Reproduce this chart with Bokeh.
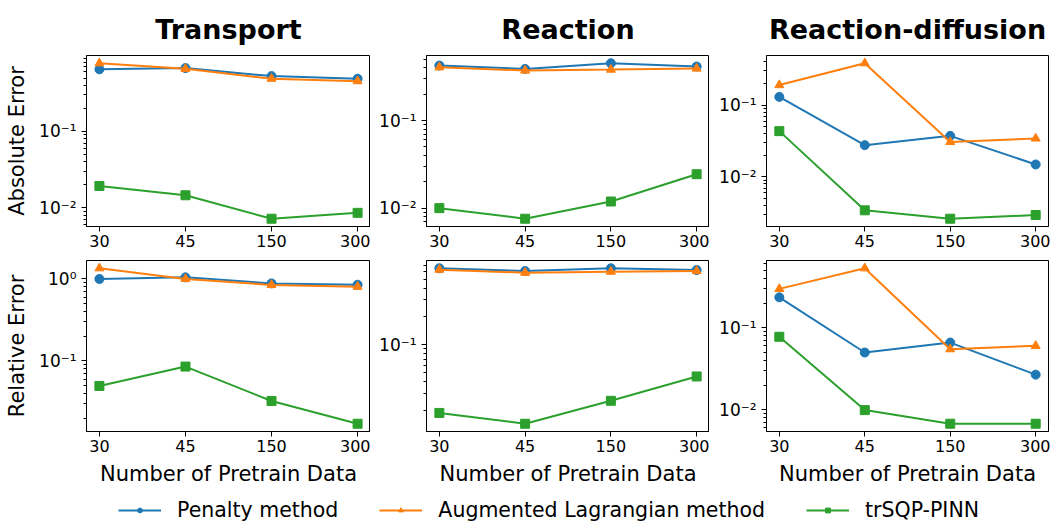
import numpy as np
from bokeh.plotting import figure
from bokeh.models import (Range1d, FixedTicker, Legend, LegendItem,
                          CustomJSTickFormatter)
from bokeh.layouts import column, row
from bokeh.embed import file_html
from bokeh.resources import INLINE

# ---------------- data ----------------
pretrain = ["30", "45", "150", "300"]
problems = ["Transport", "Reaction", "Reaction-diffusion"]
methods = ["Penalty method", "Augmented Lagrangian method", "trSQP-PINN"]

abs_transport_penalty = [0.65, 0.675, 0.53, 0.49]
abs_transport_auglag = [0.78, 0.66, 0.49, 0.455]
abs_transport_trsqp = [0.0193, 0.0146, 0.0072, 0.0086]

abs_reaction_penalty = [0.424, 0.388, 0.45, 0.413]
abs_reaction_auglag = [0.405, 0.372, 0.381, 0.392]
abs_reaction_trsqp = [0.0100, 0.00757, 0.0119, 0.0244]

abs_rd_penalty = [0.13, 0.0277, 0.0373, 0.0149]
abs_rd_auglag = [0.19, 0.382, 0.0307, 0.0343]
abs_rd_trsqp = [0.0434, 0.00343, 0.00262, 0.00295]

rel_transport_penalty = [1.0, 1.047, 0.883, 0.85]
rel_transport_auglag = [1.35, 1.0, 0.845, 0.805]
rel_transport_trsqp = [0.0494, 0.0852, 0.0324, 0.0171]

rel_reaction_penalty = [0.652, 0.61, 0.652, 0.625]
rel_reaction_auglag = [0.63, 0.585, 0.60, 0.61]
rel_reaction_trsqp = [0.0187, 0.01435, 0.0252, 0.0458]

rel_rd_penalty = [0.235, 0.0499, 0.066, 0.0268]
rel_rd_auglag = [0.298, 0.532, 0.0548, 0.0602]
rel_rd_trsqp = [0.0776, 0.0099, 0.00675, 0.00675]

abs_data = [
    [abs_transport_penalty, abs_transport_auglag, abs_transport_trsqp],
    [abs_reaction_penalty, abs_reaction_auglag, abs_reaction_trsqp],
    [abs_rd_penalty, abs_rd_auglag, abs_rd_trsqp],
]
rel_data = [
    [rel_transport_penalty, rel_transport_auglag, rel_transport_trsqp],
    [rel_reaction_penalty, rel_reaction_auglag, rel_reaction_trsqp],
    [rel_rd_penalty, rel_rd_auglag, rel_rd_trsqp],
]

# ---------------- style ----------------
COLORS = ["#1f77b4", "#ff7f0e", "#2ca02c"]
MARKERS = ["circle", "triangle", "square"]
FONT = "DejaVu Sans"
FRAME_W = [284, 283, 282]
LEFT = [86, 56, 57]
RIGHT = [0, 0, 2]
FRAME_H = 171

SUP = """
const sup = {'-':'\u207b','0':'\u2070','1':'\u00b9','2':'\u00b2','3':'\u00b3',
             '4':'\u2074','5':'\u2075','6':'\u2076','7':'\u2077','8':'\u2078','9':'\u2079'};
const e = Math.round(Math.log10(tick));
return '10' + String(e).split('').map(c => sup[c]).join('');
"""


def log_range(series):
    lo = np.log10(min(min(s) for s in series))
    hi = np.log10(max(max(s) for s in series))
    pad = 0.05 * (hi - lo)
    return Range1d(10 ** (lo - pad), 10 ** (hi + pad))


def make_panel(series, col, title=None, ylabel=None, xlabel=None, top=0, bottom=34):
    n = len(pretrain)
    xs = list(range(n))
    xpad = 0.05 * (n - 1)
    p = figure(frame_width=FRAME_W[col], frame_height=FRAME_H,
               y_axis_type="log",
               x_range=Range1d(-xpad, n - 1 + xpad),
               y_range=log_range(series),
               output_backend="svg", toolbar_location=None,
               min_border_left=LEFT[col], min_border_right=RIGHT[col],
               min_border_top=top, min_border_bottom=bottom,
               background_fill_color="white", border_fill_color="white")
    p.outline_line_color = "black"
    p.outline_line_width = 1
    p.grid.visible = False
    if title:
        p.title.text = title
        p.title.text_font = FONT
        p.title.text_font_size = "27px"
        p.title.text_font_style = "bold"
        p.title.align = "center"
        p.title.text_color = "black"
        p.title.standoff = 22
    for vals, c, m in zip(series, COLORS, MARKERS):
        p.line(xs, vals, line_color=c, line_width=2)
        p.scatter(xs, vals, marker=m, size=9, fill_color=c, line_color=c)

    # x axis
    xa = p.xaxis[0]
    xa.ticker = FixedTicker(ticks=xs, minor_ticks=[])
    xa.formatter = CustomJSTickFormatter(args=dict(labels=pretrain),
                                         code="return labels[Math.round(tick)];")
    # y axis
    ya = p.yaxis[0]
    major = [10.0 ** k for k in range(-4, 2)]
    minor = [m * 10.0 ** k for k in range(-4, 1) for m in range(2, 10)]
    ya.ticker = FixedTicker(ticks=major, minor_ticks=minor)
    ya.formatter = CustomJSTickFormatter(code=SUP)

    for ax in (xa, ya):
        ax.axis_line_color = "black"
        ax.axis_line_width = 1
        ax.major_tick_line_color = "black"
        ax.minor_tick_line_color = "black"
        ax.major_tick_in = 0
        ax.major_tick_out = 5
        ax.minor_tick_in = 0
        ax.minor_tick_out = 3
        ax.major_label_text_font = FONT
        ax.major_label_text_font_size = "16px"
        ax.major_label_text_color = "black"
        ax.axis_label_text_font = FONT
        ax.axis_label_text_font_size = "21px"
        ax.axis_label_text_font_style = "normal"
        ax.axis_label_text_color = "black"
    ya.major_label_text_font_size = "17px"
    xa.major_label_standoff = 3
    ya.major_label_standoff = 5
    if ylabel:
        ya.axis_label = ylabel
        ya.axis_label_standoff = 7
    if xlabel:
        xa.axis_label = xlabel
        xa.axis_label_standoff = 7
    return p


top_row = [make_panel(abs_data[i], i, title=problems[i],
                      ylabel="Absolute Error" if i == 0 else None,
                      top=55, bottom=34) for i in range(3)]
bot_row = [make_panel(rel_data[i], i,
                      ylabel="Relative Error" if i == 0 else None,
                      xlabel="Number of Pretrain Data",
                      top=0, bottom=54) for i in range(3)]

# ---------------- legend strip ----------------
lf = figure(frame_width=1050, frame_height=37, min_border=0,
            x_range=Range1d(-1, 1), y_range=Range1d(-1, 1),
            output_backend="svg", toolbar_location=None,
            outline_line_color=None)
lf.axis.visible = False
lf.grid.visible = False
items = []
for j, (name, c, m) in enumerate(zip(methods, COLORS, MARKERS)):
    vals = abs_data[0][j]
    xs = list(range(len(vals)))
    r1 = lf.line(xs, vals, line_color=c, line_width=2, visible=False)
    r2 = lf.scatter(xs, vals, marker=m, size=9, fill_color=c, line_color=c, visible=False)
    items.append(LegendItem(label=name, renderers=[r1, r2]))
leg = Legend(items=items, orientation="horizontal", location=(118, 3),
             padding=0, margin=0, spacing=41, glyph_width=43, glyph_height=12,
             label_standoff=16, label_text_font=FONT, label_text_font_size="20.5px",
             label_text_color="black", border_line_color=None,
             background_fill_alpha=0, inactive_fill_alpha=0)
lf.add_layout(leg, "center")

page = column(row(*top_row), row(*bot_row), lf)

open("out.html", "w").write(file_html(page, INLINE))
